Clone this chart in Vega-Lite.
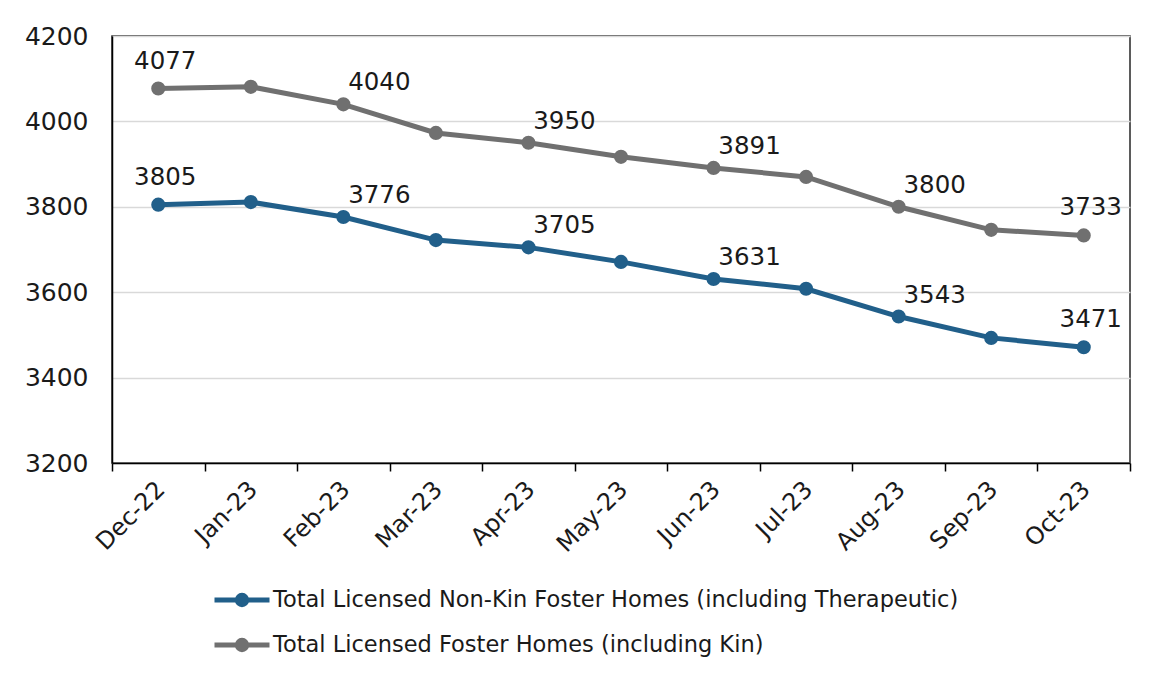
{
  "$schema": "https://vega.github.io/schema/vega-lite/v6.json",
  "width": 1018,
  "height": 427,
  "autosize": {"type": "none"},
  "padding": {"left": 112, "top": 36, "right": 21, "bottom": 214},
  "background": "white",
  "config": {
    "font": "DejaVu Sans",
    "view": {"stroke": "#262626", "strokeWidth": 1.5}
  },
  "data": {
    "values": [
      {"month": "Dec-22", "series": "Total Licensed Non-Kin Foster Homes (including Therapeutic)", "value": 3805},
      {"month": "Jan-23", "series": "Total Licensed Non-Kin Foster Homes (including Therapeutic)", "value": 3811},
      {"month": "Feb-23", "series": "Total Licensed Non-Kin Foster Homes (including Therapeutic)", "value": 3776},
      {"month": "Mar-23", "series": "Total Licensed Non-Kin Foster Homes (including Therapeutic)", "value": 3722},
      {"month": "Apr-23", "series": "Total Licensed Non-Kin Foster Homes (including Therapeutic)", "value": 3705},
      {"month": "May-23", "series": "Total Licensed Non-Kin Foster Homes (including Therapeutic)", "value": 3671},
      {"month": "Jun-23", "series": "Total Licensed Non-Kin Foster Homes (including Therapeutic)", "value": 3631},
      {"month": "Jul-23", "series": "Total Licensed Non-Kin Foster Homes (including Therapeutic)", "value": 3608},
      {"month": "Aug-23", "series": "Total Licensed Non-Kin Foster Homes (including Therapeutic)", "value": 3543},
      {"month": "Sep-23", "series": "Total Licensed Non-Kin Foster Homes (including Therapeutic)", "value": 3493},
      {"month": "Oct-23", "series": "Total Licensed Non-Kin Foster Homes (including Therapeutic)", "value": 3471},
      {"month": "Dec-22", "series": "Total Licensed Foster Homes (including Kin)", "value": 4077},
      {"month": "Jan-23", "series": "Total Licensed Foster Homes (including Kin)", "value": 4081},
      {"month": "Feb-23", "series": "Total Licensed Foster Homes (including Kin)", "value": 4040},
      {"month": "Mar-23", "series": "Total Licensed Foster Homes (including Kin)", "value": 3973},
      {"month": "Apr-23", "series": "Total Licensed Foster Homes (including Kin)", "value": 3950},
      {"month": "May-23", "series": "Total Licensed Foster Homes (including Kin)", "value": 3917},
      {"month": "Jun-23", "series": "Total Licensed Foster Homes (including Kin)", "value": 3891},
      {"month": "Jul-23", "series": "Total Licensed Foster Homes (including Kin)", "value": 3870},
      {"month": "Aug-23", "series": "Total Licensed Foster Homes (including Kin)", "value": 3800},
      {"month": "Sep-23", "series": "Total Licensed Foster Homes (including Kin)", "value": 3746},
      {"month": "Oct-23", "series": "Total Licensed Foster Homes (including Kin)", "value": 3733}
    ]
  },
  "encoding": {
    "x": {
      "field": "month",
      "type": "ordinal",
      "sort": null,
      "bandPosition": 0.5,
      "scale": {"type": "band", "paddingInner": 0, "paddingOuter": 0},
      "axis": {
        "title": null,
        "labelAngle": -45,
        "labelFontSize": 24,
        "labelColor": "#1a1a1a",
        "tickBand": "extent",
        "tickSize": 8,
        "tickColor": "black",
        "tickWidth": 1.5,
        "domainColor": "black",
        "domainWidth": 1.5,
        "grid": false,
        "labelOffset": -6,
        "labelPadding": 6
      }
    },
    "y": {
      "field": "value",
      "type": "quantitative",
      "scale": {"domain": [3200, 4200], "nice": false, "zero": false},
      "axis": {
        "title": null,
        "values": [3200, 3400, 3600, 3800, 4000, 4200],
        "format": "d",
        "ticks": false,
        "domainColor": "black",
        "domainWidth": 1.5,
        "labelFontSize": 25,
        "labelColor": "#1a1a1a",
        "labelPadding": 24,
        "gridColor": "#d9d9d9",
        "gridWidth": 1.5
      }
    }
  },
  "layer": [
    {
      "mark": {"type": "line", "strokeWidth": 5},
      "encoding": {
        "color": {
          "field": "series",
          "type": "nominal",
          "sort": null,
          "scale": {
            "domain": ["Total Licensed Non-Kin Foster Homes (including Therapeutic)", "Total Licensed Foster Homes (including Kin)"],
            "range": ["#215f8a", "#707070"]
          },
          "legend": {
            "orient": "none",
            "legendX": 100,
            "legendY": 534,
            "title": null,
            "direction": "vertical",
            "labelFontSize": 22.5,
            "labelColor": "#1a1a1a",
            "labelLimit": 0,
            "labelOffset": 1,
            "rowPadding": -3,
            "symbolType": "M-1,0H1M-0.17,0A0.17,0.17,0,1,0,0.17,0A0.17,0.17,0,1,0,-0.17,0Z",
            "symbolSize": 3025,
            "symbolStrokeWidth": 5,
            "encode": {"symbols": {"update": {"fill": {"field": "value", "scale": "color"}}}}
          }
        }
      }
    },
    {
      "mark": {"type": "point", "filled": true, "size": 200, "opacity": 1},
      "encoding": {
        "color": {"field": "series", "type": "nominal", "sort": null, "legend": null}
      }
    },
    {
      "transform": [{"filter": {"field": "month", "oneOf": ["Feb-23", "Apr-23", "Jun-23", "Aug-23"]}}],
      "mark": {"type": "text", "fontSize": 24.5, "color": "#1a1a1a", "dx": 36, "dy": -21},
      "encoding": {"text": {"field": "value", "type": "quantitative", "format": "d"}}
    },
    {
      "transform": [{"filter": {"field": "month", "oneOf": ["Dec-22", "Oct-23"]}}],
      "mark": {"type": "text", "fontSize": 24.5, "color": "#1a1a1a", "dx": 7, "dy": -27},
      "encoding": {"text": {"field": "value", "type": "quantitative", "format": "d"}}
    }
  ]
}
